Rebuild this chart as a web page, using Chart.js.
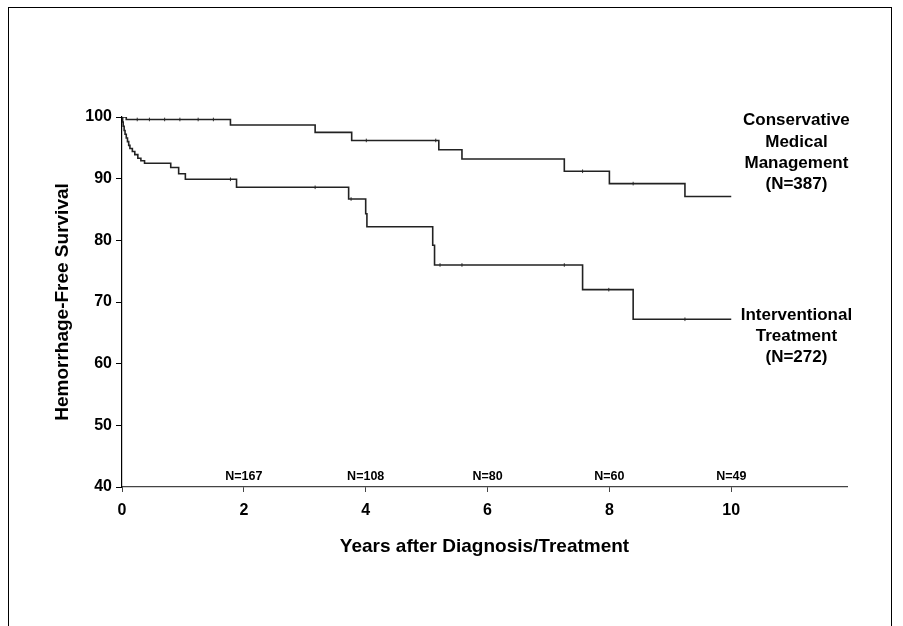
<!DOCTYPE html>
<html>
<head>
<meta charset="utf-8">
<script src="https://cdn.jsdelivr.net/npm/chart.js@4.4.1/dist/chart.umd.min.js"></script>
<style>
  html, body { margin: 0; padding: 0; background: #fff; overflow: hidden; }
  #frame { position: absolute; left: 8px; top: 7px; width: 884px; height: 700px; border: 1.5px solid #000; box-sizing: border-box; }
  #c { position: absolute; left: 0; top: 0; }
</style>
</head>
<body>
<div id="frame"></div>
<canvas id="c" width="903" height="626"></canvas>
<script>
// ---- Data ----
const consTimes = [0, 0.07, 1.78, 3.17, 3.77, 5.20, 5.58, 7.26, 8.00, 9.24, 10.0];
const consSurv  = [100, 99.6, 98.7, 97.5, 96.2, 94.7, 93.2, 91.2, 89.2, 87.1, 87.1];

const intTimes = [0, 0.01, 0.02, 0.035, 0.05, 0.07, 0.09, 0.11, 0.13, 0.17, 0.21, 0.26, 0.31, 0.37,
                  0.80, 0.93, 1.04, 1.88, 3.72, 4.00, 4.02, 5.10, 5.13, 7.56, 8.39, 10.0];
const intSurv  = [100, 99.2, 98.5, 97.8, 97.2, 96.6, 96.0, 95.4, 94.9, 94.4, 93.9, 93.3, 92.9, 92.5,
                  91.8, 90.8, 89.9, 88.6, 86.7, 84.3, 82.2, 79.2, 76.0, 72.0, 67.2, 67.2];

const consCensor = [0.25, 0.45, 0.7, 0.95, 1.25, 1.5, 4.01, 5.15, 7.56, 8.39];
const intCensor  = [1.78, 3.17, 3.76, 5.22, 5.58, 7.26, 7.99, 9.24];

const nAtRiskX = [2, 4, 6, 8, 10];
const nAtRisk  = [167, 108, 80, 60, 49];

const xTickStep = 2;
const yTicks = [40, 50, 60, 70, 80, 90, 100];

const consLabel = ["Conservative", "Medical", "Management", "(N=387)"];
const intLabel  = ["Interventional", "Treatment", "(N=272)"];
const labelX = 11.07;
const labelY = [99.4, 67.9];

// ---- helpers ----
function toPoints(t, s) { return t.map((v, i) => ({ x: v, y: s[i] })); }
function stepValue(t, s, x) {
  let v = s[0];
  for (let i = 0; i < t.length; i++) { if (t[i] <= x) v = s[i]; }
  return v;
}

const FONT = "'Liberation Sans', Arial, sans-serif";
const LINE = '#222';

const textPlugin = {
  id: 'texts',
  afterDatasetsDraw(chart) {
    const ctx = chart.ctx;
    const xs = chart.scales.x, ys = chart.scales.y;
    ctx.save();
    ctx.fillStyle = '#000';
    ctx.textAlign = 'center';
    ctx.textBaseline = 'middle';
    ctx.font = 'bold 12.5px ' + FONT;
    nAtRiskX.forEach((x, i) => {
      ctx.fillText('N=' + nAtRisk[i], xs.getPixelForValue(x), chart.chartArea.bottom - 10);
    });
    ctx.font = 'bold 17px ' + FONT;
    const lh = 21.3;
    [consLabel, intLabel].forEach((lines, k) => {
      const px = xs.getPixelForValue(labelX);
      const py = ys.getPixelForValue(labelY[k]);
      lines.forEach((ln, j) => ctx.fillText(ln, px, py + j * lh));
    });
    ctx.restore();
  }
};

new Chart(document.getElementById('c'), {
  type: 'scatter',
  data: {
    datasets: [
      { data: toPoints(consTimes, consSurv), showLine: true, stepped: true, borderColor: LINE, borderWidth: 1.6, pointRadius: 0, fill: false },
      { data: toPoints(intTimes, intSurv), showLine: true, stepped: true, borderColor: LINE, borderWidth: 1.6, pointRadius: 0, fill: false },
      { data: consCensor.map(x => ({ x, y: stepValue(consTimes, consSurv, x) })), showLine: false, pointStyle: 'line', rotation: 90, pointRadius: 1.8, borderColor: '#333', borderWidth: 1 },
      { data: intCensor.map(x => ({ x, y: stepValue(intTimes, intSurv, x) })), showLine: false, pointStyle: 'line', rotation: 90, pointRadius: 1.8, borderColor: '#333', borderWidth: 1 }
    ]
  },
  options: {
    responsive: false,
    animation: false,
    layout: { padding: { top: 117, right: 56, bottom: 0, left: 0 } },
    plugins: { legend: { display: false }, tooltip: { enabled: false } },
    scales: {
      x: {
        type: 'linear', min: 0, max: 11.9,
        ticks: { stepSize: xTickStep, includeBounds: false, color: '#000', font: { family: FONT, size: 16, weight: 'bold' }, padding: 9, maxRotation: 0 },
        grid: { drawOnChartArea: false, drawTicks: true, tickLength: 5, color: '#444' },
        border: { display: true, color: '#444', width: 1.2 },
        title: { display: true, text: 'Years after Diagnosis/Treatment', color: '#000', font: { family: FONT, size: 19, weight: 'bold' }, padding: { top: 0, bottom: 68 } },
        afterFit(s) { s.height = 139; }
      },
      y: {
        type: 'linear', min: 40, max: 100,
        afterBuildTicks(s) { s.ticks = yTicks.map(v => ({ value: v })); },
        ticks: { color: '#000', font: { family: FONT, size: 16, weight: 'bold' }, padding: 4 },
        grid: { drawOnChartArea: false, drawTicks: true, tickLength: 6, color: '#000' },
        border: { display: true, color: '#000', width: 1.2 },
        title: { display: true, text: 'Hemorrhage-Free Survival', color: '#000', font: { family: FONT, size: 19, weight: 'bold' }, padding: { top: 51, bottom: 0 } },
        afterFit(s) { s.width = 122; }
      }
    }
  },
  plugins: [textPlugin]
});
</script>
</body>
</html>
